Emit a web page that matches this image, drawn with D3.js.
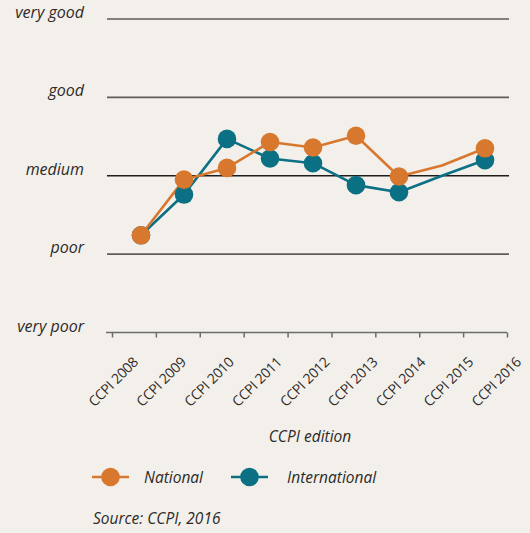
<!DOCTYPE html>
<html>
<head>
<meta charset="utf-8">
<script src="https://cdn.jsdelivr.net/npm/d3@7"></script>
<style>
  body { margin: 0; background: #f3f0eb; }
  svg { display: block; font-family: "Open Sans", Lato, sans-serif; }
  text { fill: #2d2a28; }
</style>
</head>
<body>
<svg id="chart" width="530" height="533"></svg>
<script>
const editions = ["CCPI 2008", "CCPI 2009", "CCPI 2010", "CCPI 2011", "CCPI 2012",
  "CCPI 2013", "CCPI 2014", "CCPI 2015", "CCPI 2016"];
const ratings = ["very poor", "poor", "medium", "good", "very good"];
const national = [1.24, 1.95, 2.10, 2.43, 2.36, 2.51, 1.99, 2.13, 2.35];
const international = [1.24, 1.76, 2.47, 2.22, 2.16, 1.88, 1.79, 2.00, 2.20];
// CCPI 2015 has no marker in the original, only a bend in the line
const markedEditions = editions.filter(e => e !== "CCPI 2015");

const ORANGE = "#d8782f";
const TEAL = "#0b7083";

const series = [
  { name: "International", values: international, color: TEAL },
  { name: "National", values: national, color: ORANGE }
];

const svg = d3.select("#chart");

const x = d3.scalePoint().domain(editions).range([141, 485]);
const y = d3.scaleLinear().domain([0, ratings.length - 1]).range([332.5, 19]);
const tickPos = d3.scaleLinear().domain([0, editions.length]).range([112, 507]);
const labelPos = d3.scalePoint().domain(editions).range([139, 522]);

// horizontal rating lines
svg.append("g")
  .selectAll("line")
  .data(ratings.slice(1))
  .join("line")
  .attr("x1", 107)
  .attr("x2", 509)
  .attr("y1", (d, i) => y(i + 1))
  .attr("y2", (d, i) => y(i + 1))
  .attr("stroke", d => d === "medium" ? "#1f1c1a" : "#5e5b58")
  .attr("stroke-width", d => d === "medium" ? 1.3 : 1.6);

// y labels
svg.append("g")
  .selectAll("text")
  .data(ratings)
  .join("text")
  .attr("x", 84)
  .attr("y", (d, i) => y(i) - 1)
  .attr("text-anchor", "end")
  .attr("font-style", "italic")
  .attr("font-size", 16)
  .text(d => d);

// x axis
svg.append("line")
  .attr("x1", 106).attr("x2", 507)
  .attr("y1", y(0)).attr("y2", y(0))
  .attr("stroke", "#6e6b68").attr("stroke-width", 1.6);

const xAxis = d3.axisBottom(tickPos)
  .tickValues(d3.range(editions.length + 1))
  .tickFormat("")
  .tickSize(5)
  .tickSizeOuter(0);

svg.append("g")
  .attr("class", "x axis")
  .attr("transform", `translate(0,${y(0)})`)
  .call(xAxis)
  .call(g => g.select(".domain").remove())
  .call(g => g.selectAll(".tick line").attr("stroke", "#6e6b68").attr("stroke-width", 1.5));

svg.append("g")
  .selectAll("text")
  .data(editions)
  .join("text")
  .attr("text-anchor", "end")
  .attr("font-size", 14)
  .attr("letter-spacing", -0.3)
  .attr("transform", d => `translate(${labelPos(d)},363) rotate(-45)`)
  .text(d => d);

svg.append("text")
  .attr("x", 310)
  .attr("y", 442)
  .attr("text-anchor", "middle")
  .attr("font-style", "italic")
  .attr("font-size", 15.5)
  .text("CCPI edition");

// lines and markers
const line = d3.line()
  .x((d, i) => x(editions[i]))
  .y(d => y(d));

series.forEach(s => {
  svg.append("path")
    .attr("d", line(s.values))
    .attr("fill", "none")
    .attr("stroke", s.color)
    .attr("stroke-width", 2.6)
    .attr("stroke-linejoin", "round");
});

series.forEach(s => {
  svg.append("g")
    .selectAll("circle")
    .data(editions.map((e, i) => ({ e, v: s.values[i] })).filter(d => markedEditions.includes(d.e)))
    .join("circle")
    .attr("cx", d => x(d.e))
    .attr("cy", d => y(d.v))
    .attr("r", 9.3)
    .attr("fill", s.color);
});

// legend
const legendItems = [
  { name: "National", color: ORANGE, x: 92, textX: 144 },
  { name: "International", color: TEAL, x: 231, textX: 287 }
];
const legend = svg.append("g").attr("transform", "translate(0,477)");
legendItems.forEach(item => {
  legend.append("line")
    .attr("x1", item.x).attr("x2", item.x + 37)
    .attr("y1", 0).attr("y2", 0)
    .attr("stroke", item.color).attr("stroke-width", 2.6);
  legend.append("circle")
    .attr("cx", item.x + 18.5).attr("cy", 0).attr("r", 9.3)
    .attr("fill", item.color);
  legend.append("text")
    .attr("x", item.textX).attr("y", 6)
    .attr("font-style", "italic")
    .attr("font-size", 15.5)
    .text(item.name);
});

svg.append("text")
  .attr("x", 93)
  .attr("y", 524)
  .attr("font-style", "italic")
  .attr("font-size", 15.5)
  .text("Source: CCPI, 2016");
</script>
</body>
</html>
